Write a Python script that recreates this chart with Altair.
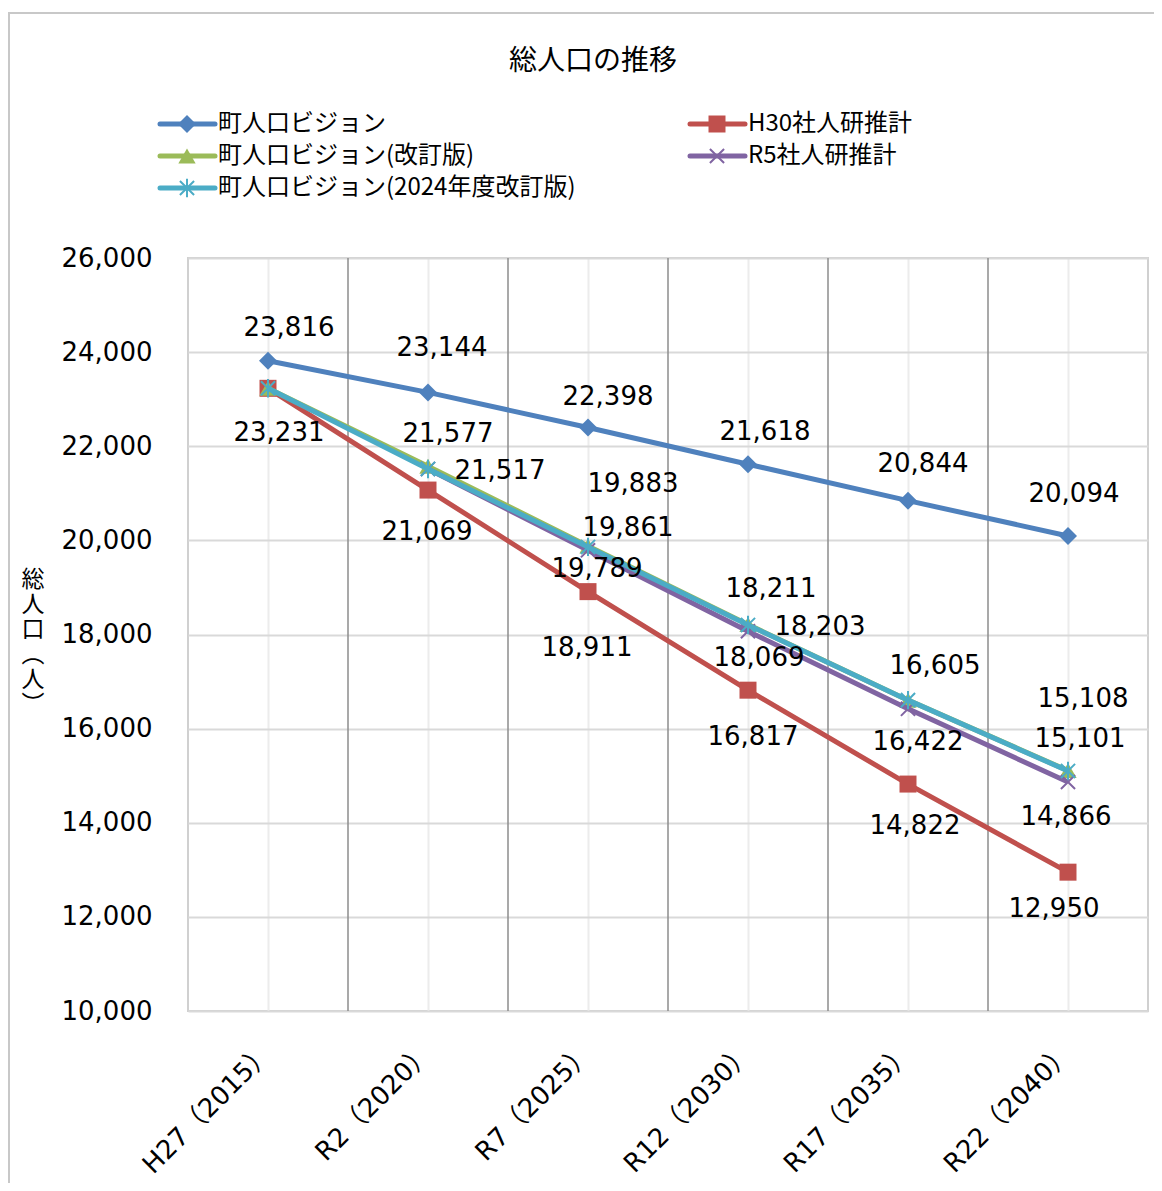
import json
import altair as alt
import pandas as pd

# ---------------- data ----------------
CATEGORIES = ["H27（2015）", "R2（2020）", "R7（2025）", "R12（2030）", "R17（2035）", "R22（2040）"]
SERIES = ["町人口ビジョン", "H30社人研推計", "町人口ビジョン(改訂版)", "R5社人研推計", "町人口ビジョン(2024年度改訂版)"]
VISION = [23816, 23144, 22398, 21618, 20844, 20094]
H30 = [23231, 21069, 18911, 16817, 14822, 12950]
VISION_REV = [23231, 21577, 19883, 18211, 16605, 15108]
R5 = [None, 21517, 19789, 18069, 16422, 14866]
VISION_2024 = [23231, 21517, 19861, 18203, 16605, 15101]
VALUES = [VISION, H30, VISION_REV, R5, VISION_2024]
Y_TICKS = list(range(10000, 26001, 2000))

# ---------------- styling / layout ----------------
COLORS = ["#4F81BD", "#C0504D", "#9BBB59", "#8064A2", "#4BACC6"]
X_PATH = "M-1,-1L1,1M-1,1L1,-1"
AST_PATH = "M-1,-1L1,1M-1,1L1,-1M0,-1.3L0,1.3"
MARKERS = [
    dict(shape="diamond", size=324, filled=True, strokeWidth=0),
    dict(shape="square", size=289, filled=True, strokeWidth=0),
    dict(shape="triangle-up", size=300, filled=True, strokeWidth=0),
    dict(shape=X_PATH, size=200, filled=False, strokeWidth=2),
    dict(shape=AST_PATH, size=200, filled=False, strokeWidth=2),
]
# label offsets in pixels (dx, dy) relative to each point; None = no label
LABEL_OFFSETS = [
    [(21, -33), (14, -44), (20, -31), (17, -32), (15, -37), (6, -42)],
    [(11, 45), (-1, 42), (-1, 56), (5, 47), (7, 42), (-14, 37)],
    [None, (20, -32), (45, -62), (23, -36), (27, -34), (15, -72)],
    [None, None, (9, 19), (11, 27), (10, 33), (-2, 35)],
    [None, (72, 2), (40, -19), (72, 2), None, (12, -32)],
]

W, H = 960, 753
PAD_L, PAD_T = 180, 250
YMIN, YMAX = 10000, 26000
px_per_unit = H / (YMAX - YMIN)
px_per_cat = W / len(CATEGORIES)

NUM_FONT = "DejaVu Sans, Noto Sans CJK JP"
JP_FONT = "Noto Sans CJK JP"

x_scale = alt.Scale(domain=[-0.5, len(CATEGORIES) - 0.5], nice=False, zero=False)
y_scale = alt.Scale(domain=[YMIN, YMAX], nice=False, zero=False)

label_expr = json.dumps(CATEGORIES, ensure_ascii=False) + "[datum.value]"
X_AXIS = alt.Axis(
    values=list(range(len(CATEGORIES))), labelExpr=label_expr, title=None,
    grid=True, gridColor="#ececec", gridWidth=2, ticks=False, domain=False,
    labelAngle=-45, labelAlign="right", labelBaseline="middle", labelPadding=37,
    labelFontSize=26, labelFont=NUM_FONT, labelColor="#000000",
    labelOverlap=False, labelFlush=False, labelBound=False,
)
Y_AXIS = alt.Axis(
    values=Y_TICKS, labelExpr="format(datum.value, ',')", title=None, grid=True,
    gridColor="#d9d9d9", gridWidth=2, ticks=False, domain=False, labelPadding=36,
    labelFontSize=26, labelFont=NUM_FONT, labelColor="#000000",
)


def X(field):
    return alt.X(field, type="quantitative", scale=x_scale, axis=X_AXIS)


def Y(field):
    return alt.Y(field, type="quantitative", scale=y_scale, axis=Y_AXIS)


layers = []
one = alt.Data(values=[{"a": 1}])

# outer frame
layers.append(
    alt.Chart(one).mark_rect(fillOpacity=0, stroke="#c8c8c8", strokeWidth=2).encode(
        x=alt.value(-PAD_L + 1), x2=alt.value(W + 40), y=alt.value(-PAD_T + 5), y2=alt.value(H + 200)
    )
)

# category separators
sep_df = pd.DataFrame({"sep": [i + 0.5 for i in range(len(CATEGORIES) - 1)]})
layers.append(alt.Chart(sep_df).mark_rule(color="#8c8c8c", strokeWidth=1.5).encode(x=X("sep")))

# series lines and markers
for i, (name, vals) in enumerate(zip(SERIES, VALUES)):
    df = pd.DataFrame({"x": list(range(len(CATEGORIES))), "y": vals})
    df = df.dropna()
    layers.append(
        alt.Chart(df).mark_line(color=COLORS[i], strokeWidth=5).encode(x=X("x"), y=Y("y"))
    )
    m = MARKERS[i]
    pt = alt.Chart(df).mark_point(
        shape=m["shape"], size=m["size"], filled=m["filled"], color=COLORS[i],
        strokeWidth=m["strokeWidth"] if m["strokeWidth"] else 0.1, opacity=1,
    ).encode(x=X("x"), y=Y("y"))
    layers.append(pt)

# data labels
rows = []
for i, vals in enumerate(VALUES):
    for j, v in enumerate(vals):
        off = LABEL_OFFSETS[i][j]
        if v is None or off is None:
            continue
        rows.append({"lx": j + off[0] / px_per_cat, "ly": v - off[1] / px_per_unit, "t": f"{v:,}"})
lab_df = pd.DataFrame(rows)
layers.append(
    alt.Chart(lab_df).mark_text(font=NUM_FONT, fontSize=26, color="#000000", align="center", baseline="middle")
    .encode(x=X("lx"), y=Y("ly"), text="t:N")
)

# title
layers.append(
    alt.Chart(one).mark_text(text="総人口の推移", font=JP_FONT, fontSize=28, color="#000000",
                             align="center", baseline="middle")
    .encode(x=alt.value(593 - 188), y=alt.value(62 - 258))
)

# y-axis title (vertical)
layers.append(
    alt.Chart(one).mark_text(text=["総", "人", "口", "︵", "人", "︶"], font=JP_FONT, fontSize=23,
                             lineHeight=25, color="#000000", align="center", baseline="top")
    .encode(x=alt.value(33 - 188), y=alt.value(569 - 258))
)

# manual legend
LEG_POS = [(-28, -134), (502, -134), (-28, -102), (502, -102), (-28, -70)]
for i, name in enumerate(SERIES):
    lx, ly = LEG_POS[i]
    m = MARKERS[i]
    layers.append(
        alt.Chart(one).mark_rule(color=COLORS[i], strokeWidth=5, strokeCap="round").encode(
            x=alt.value(lx), x2=alt.value(lx + 55), y=alt.value(ly)
        )
    )
    layers.append(
        alt.Chart(one).mark_point(
            shape=m["shape"], size=m["size"], filled=m["filled"], color=COLORS[i],
            strokeWidth=m["strokeWidth"] if m["strokeWidth"] else 0.1, opacity=1,
        ).encode(x=alt.value(lx + 27), y=alt.value(ly))
    )
    layers.append(
        alt.Chart(one).mark_text(text=name, font=JP_FONT, fontSize=24, color="#000000",
                                 align="left", baseline="middle")
        .encode(x=alt.value(lx + 58), y=alt.value(ly))
    )

chart = (
    alt.layer(*layers)
    .properties(
        width=W, height=H,
        autosize=alt.AutoSizeParams(type="none"),
        padding={"left": PAD_L, "top": PAD_T, "right": 6, "bottom": 172},
        background="#ffffff",
    )
    .configure_view(stroke="#d0d0d0", strokeWidth=2)
)

chart.save("out.html", embed_options={"renderer": "svg", "actions": False})
